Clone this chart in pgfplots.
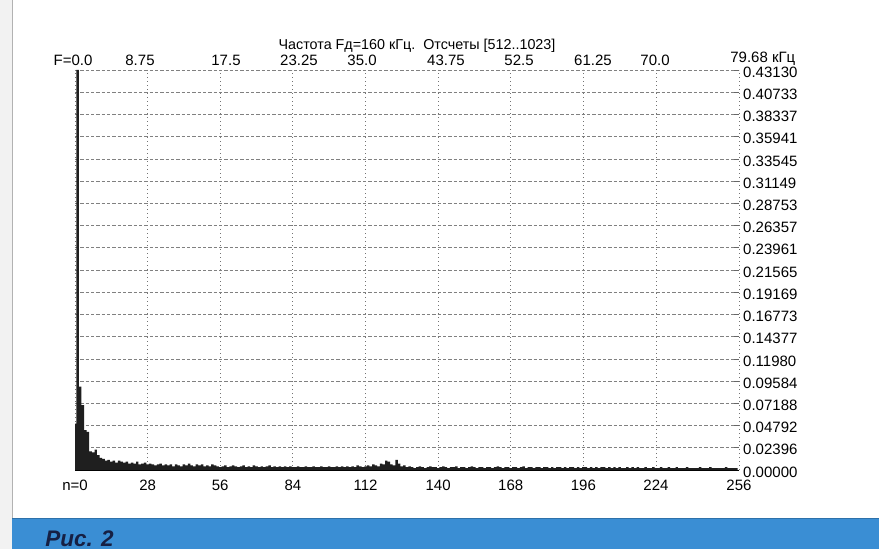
\documentclass[border=0pt]{standalone}
\usepackage{pgfplots}
\usepackage{pgfplotstable}
\pgfplotsset{compat=1.18}
\usepackage{fontspec}
\setmainfont{Liberation Sans}
\definecolor{band}{RGB}{58,142,212}
\definecolor{navy}{RGB}{22,32,68}

\pgfplotstableread{
n v
0 0.050
1 0.4313
2 0.090
3 0.070
4 0.043
5 0.041
6 0.020
7 0.019
8 0.022
9 0.016
10 0.013
11 0.012
12 0.010
13 0.011
14 0.009
15 0.010
16 0.008
17 0.010
18 0.009
19 0.008
20 0.009
21 0.007
22 0.008
23 0.007
24 0.009
25 0.006
26 0.007
27 0.008
28 0.006
29 0.007
30 0.006
31 0.005
32 0.006
33 0.007
34 0.005
35 0.006
36 0.005
37 0.006
38 0.004
39 0.006
40 0.005
41 0.004
42 0.006
43 0.005
44 0.007
45 0.005
46 0.004
47 0.006
48 0.005
49 0.006
50 0.004
51 0.005
52 0.004
53 0.006
54 0.005
55 0.004
56 0.003
57 0.004
58 0.005
59 0.003
60 0.004
61 0.005
62 0.004
63 0.003
64 0.004
65 0.005
66 0.003
67 0.004
68 0.003
69 0.005
70 0.004
71 0.003
72 0.004
73 0.003
74 0.004
75 0.005
76 0.003
77 0.004
78 0.003
79 0.004
80 0.003
81 0.004
82 0.003
83 0.004
84 0.003
85 0.003
86 0.004
87 0.003
88 0.003
89 0.004
90 0.003
91 0.003
92 0.004
93 0.003
94 0.003
95 0.004
96 0.003
97 0.003
98 0.004
99 0.003
100 0.003
101 0.004
102 0.003
103 0.004
104 0.003
105 0.004
106 0.003
107 0.004
108 0.003
109 0.005
110 0.004
111 0.003
112 0.004
113 0.005
114 0.004
115 0.006
116 0.005
117 0.004
118 0.007
119 0.006
120 0.010
121 0.009
122 0.006
123 0.005
124 0.011
125 0.007
126 0.004
127 0.005
128 0.003
129 0.004
130 0.003
131 0.002
132 0.003
133 0.004
134 0.003
135 0.002
136 0.003
137 0.004
138 0.003
139 0.003
140 0.002
141 0.003
142 0.004
143 0.003
144 0.002
145 0.003
146 0.003
147 0.004
148 0.002
149 0.003
150 0.003
151 0.002
152 0.003
153 0.004
154 0.003
155 0.002
156 0.003
157 0.003
158 0.002
159 0.003
160 0.003
161 0.002
162 0.003
163 0.004
164 0.003
165 0.002
166 0.003
167 0.003
168 0.002
169 0.003
170 0.003
171 0.002
172 0.003
173 0.004
174 0.002
175 0.003
176 0.003
177 0.002
178 0.003
179 0.003
180 0.002
181 0.003
182 0.003
183 0.002
184 0.003
185 0.002
186 0.003
187 0.003
188 0.002
189 0.003
190 0.002
191 0.003
192 0.003
193 0.002
194 0.003
195 0.002
196 0.003
197 0.003
198 0.002
199 0.003
200 0.002
201 0.003
202 0.002
203 0.003
204 0.003
205 0.002
206 0.003
207 0.002
208 0.003
209 0.002
210 0.003
211 0.002
212 0.002
213 0.003
214 0.002
215 0.003
216 0.002
217 0.003
218 0.002
219 0.002
220 0.003
221 0.002
222 0.002
223 0.003
224 0.002
225 0.002
226 0.003
227 0.002
228 0.002
229 0.003
230 0.002
231 0.002
232 0.003
233 0.002
234 0.002
235 0.002
236 0.003
237 0.002
238 0.002
239 0.002
240 0.002
241 0.003
242 0.002
243 0.002
244 0.002
245 0.003
246 0.002
247 0.002
248 0.002
249 0.002
250 0.002
251 0.003
252 0.002
253 0.002
254 0.002
255 0.002
}\spectrum

\begin{document}
\begin{tikzpicture}
\begin{scope}[x=0.6pt,y=-0.6pt]
  \useasboundingbox (0,0) rectangle (879,549);
  \fill[white] (0,0) rectangle (879,549);
  \fill[black!5] (0,0) rectangle (12,549);
  \draw[black!30, line width=0.5pt] (12,0) -- (12,518);
  \fill[band] (12,518) rectangle (879,549);
  \draw[band!80!black, line width=0.6pt] (12,518) -- (879,518);
  \node[anchor=base west, inner sep=0pt, text=navy,
        font=\fontsize{13.5}{15}\selectfont\bfseries\itshape] at (45,546) {Рис. 2};
\end{scope}

\begin{axis}[
  at={(45pt,-282pt)}, anchor=south west,
  scale only axis, width=398.4pt, height=240pt,
  xmin=0, xmax=256, ymin=0, ymax=0.4313,
  axis x line*=bottom, axis y line*=right,
  x axis line style={-, black, line width=0.5pt},
  y axis line style={draw=none},
  xtick={0,28,56,84,112,140,168,196,224,256},
  xticklabels={n=0,28,56,84,112,140,168,196,224,256},
  ytick={0,0.02396,0.04792,0.07188,0.09584,0.11980,0.14377,0.16773,0.19169,0.21565,0.23961,0.26357,0.28753,0.31149,0.33545,0.35941,0.38337,0.40733,0.43130},
  yticklabels={0.00000,0.02396,0.04792,0.07188,0.09584,0.11980,0.14377,0.16773,0.19169,0.21565,0.23961,0.26357,0.28753,0.31149,0.33545,0.35941,0.38337,0.40733,0.43130},
  xtick style={draw=none},
  ytick style={black!60, line width=0.4pt},
  major tick length=3pt,
  grid=major,
  x grid style={black!55, dotted, line width=0.5pt},
  y grid style={black!50, dash pattern=on 2pt off 1.2pt, line width=0.4pt},
  tick label style={font=\fontsize{9}{10}\selectfont, text=black},
  /pgf/number format/assume math mode=true,
  yticklabel style={anchor=west, xshift=-1pt, yshift=-1.2pt},
  xticklabel style={yshift=-2.5pt},
]
\addplot[ybar, bar width=0.95, fill=black!88, draw=none] table[x=n, y=v] {\spectrum};
\end{axis}

\begin{scope}[x=0.6pt,y=-0.6pt, font=\fontsize{9}{10}\selectfont]
  \node[anchor=base, inner sep=0pt] at (73,66) {F=0.0};
  \node[anchor=base, inner sep=0pt] at (140,66) {8.75};
  \node[anchor=base, inner sep=0pt] at (226,66) {17.5};
  \node[anchor=base, inner sep=0pt] at (299,66) {23.25};
  \node[anchor=base, inner sep=0pt] at (362,66) {35.0};
  \node[anchor=base, inner sep=0pt] at (446,66) {43.75};
  \node[anchor=base, inner sep=0pt] at (519,66) {52.5};
  \node[anchor=base, inner sep=0pt] at (593,66) {61.25};
  \node[anchor=base, inner sep=0pt] at (655,66) {70.0};
  \node[anchor=base west, inner sep=0pt] at (730,63) {79.68 кГц};
  \node[anchor=base, inner sep=0pt, font=\fontsize{8.6}{10}\selectfont] at (417,50) {Частота Fд=160 кГц.\ \ Отсчеты [512..1023]};
\end{scope}
\end{tikzpicture}
\end{document}
